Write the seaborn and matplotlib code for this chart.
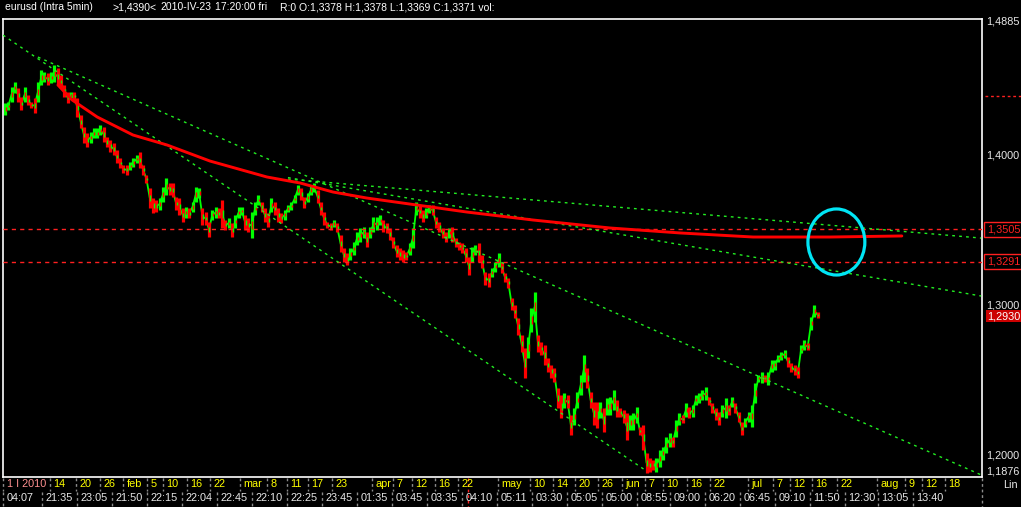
import numpy as np
import pandas as pd
import matplotlib
matplotlib.use("Agg")
import matplotlib.pyplot as plt
import matplotlib.transforms as mtransforms
from matplotlib.patches import Ellipse
import seaborn as sns

# ---------------- data ----------------
highs = [
    1.4346, 1.4352, 1.4452, 1.4485, 1.4445, 1.4385, 1.4452, 1.4399, 1.4352, 1.4379,
    1.4485, 1.4565, 1.4552, 1.4545, 1.4552, 1.4598, 1.4578, 1.4532, 1.4465, 1.4419,
    1.4419, 1.4419, 1.4379, 1.4266, 1.4186, 1.4146, 1.4153, 1.4179, 1.4179, 1.4199,
    1.4186, 1.4120, 1.4100, 1.4080, 1.4033, 1.3980, 1.3934, 1.3934, 1.3954, 1.3980,
    1.4000, 1.4020, 1.3934, 1.3867, 1.3781, 1.3714, 1.3701, 1.3714, 1.3787, 1.3847,
    1.3814, 1.3814, 1.3721, 1.3714, 1.3648, 1.3654, 1.3648, 1.3688, 1.3787, 1.3781,
    1.3648, 1.3621, 1.3555,
    1.3635, 1.3654, 1.3648, 1.3701, 1.3568, 1.3581, 1.3548,
    1.3601, 1.3654, 1.3654, 1.3601, 1.3581, 1.3621, 1.3688, 1.3734, 1.3688, 1.3648,
    1.3615, 1.3714, 1.3688, 1.3648, 1.3615, 1.3635, 1.3668, 1.3688, 1.3734, 1.3801,
    1.3781, 1.3721, 1.3748, 1.3801, 1.3814, 1.3767, 1.3688, 1.3621, 1.3555, 1.3548,
    1.3568, 1.3548, 1.3468, 1.3382, 1.3349, 1.3382, 1.3422, 1.3488, 1.3515, 1.3522,
    1.3488, 1.3522, 1.3588, 1.3588, 1.3601, 1.3568, 1.3548, 1.3515, 1.3455, 1.3402,
    1.3382, 1.3369, 1.3355, 1.3415,
    1.3515, 1.3688, 1.3668, 1.3635, 1.3648, 1.3668,
    1.3668, 1.3588, 1.3555, 1.3515, 1.3488, 1.3515, 1.3522, 1.3449, 1.3422, 1.3415,
    1.3382, 1.3322, 1.3389, 1.3402, 1.3415, 1.3335, 1.3223, 1.3216, 1.3249, 1.3289,
    1.3349, 1.3289, 1.3216, 1.3183, 1.3050, 1.3003, 1.2917, 1.2804, 1.2718, 1.2791,
    1.2983, 1.3090, 1.2804, 1.2757, 1.2738, 1.2651, 1.2605, 1.2585, 1.2452, 1.2405,
    1.2419, 1.2405, 1.2272, 1.2319, 1.2425, 1.2538, 1.2671, 1.2585, 1.2425, 1.2359,
    1.2359, 1.2359, 1.2319, 1.2385,
    1.2392, 1.2438, 1.2372, 1.2319, 1.2306, 1.2286,
    1.2272, 1.2286, 1.2326, 1.2193, 1.2206, 1.2020, 1.1987, 1.1973, 1.1987, 1.2040,
    1.2060, 1.2126, 1.2153, 1.2126, 1.2239, 1.2286, 1.2272, 1.2352, 1.2326, 1.2339,
    1.2405, 1.2419, 1.2438, 1.2458, 1.2392, 1.2352, 1.2319, 1.2292, 1.2339, 1.2385,
    1.2339, 1.2392, 1.2352, 1.2292, 1.2226, 1.2252, 1.2292, 1.2339, 1.2485, 1.2538,
    1.2558, 1.2538, 1.2558, 1.2638, 1.2638, 1.2671, 1.2691, 1.2704, 1.2658, 1.2618,
    1.2605, 1.2591, 1.2738, 1.2771, 1.2751, 1.2924, 1.3003, 1.2957,
]
lows = [
    1.4266, 1.4299, 1.4352, 1.4412, 1.4352, 1.4299, 1.4352, 1.4332, 1.4312, 1.4279,
    1.4352, 1.4465, 1.4485, 1.4465, 1.4478, 1.4485, 1.4465, 1.4445, 1.4385, 1.4346,
    1.4379, 1.4365, 1.4252, 1.4179, 1.4080, 1.4053, 1.4080, 1.4113, 1.4113, 1.4133,
    1.4086, 1.4053, 1.4020, 1.4000, 1.3947, 1.3914, 1.3880, 1.3867, 1.3900, 1.3920,
    1.3947, 1.3914, 1.3867, 1.3814, 1.3648, 1.3615, 1.3621, 1.3635, 1.3688, 1.3734,
    1.3734, 1.3721, 1.3635, 1.3601, 1.3555, 1.3581, 1.3581, 1.3621, 1.3688, 1.3714,
    1.3535, 1.3535, 1.3455,
    1.3568, 1.3581, 1.3581, 1.3515, 1.3502, 1.3515, 1.3455,
    1.3515, 1.3581, 1.3601, 1.3502, 1.3488, 1.3449, 1.3601, 1.3668, 1.3621, 1.3555,
    1.3522, 1.3621, 1.3601, 1.3555, 1.3548, 1.3568, 1.3621, 1.3635, 1.3681, 1.3734,
    1.3701, 1.3648, 1.3688, 1.3734, 1.3754, 1.3681, 1.3601, 1.3535, 1.3515, 1.3502,
    1.3522, 1.3488, 1.3355, 1.3289, 1.3269, 1.3302, 1.3335, 1.3402, 1.3422, 1.3449,
    1.3389, 1.3449, 1.3488, 1.3502, 1.3535, 1.3488, 1.3482, 1.3435, 1.3382, 1.3322,
    1.3302, 1.3289, 1.3302, 1.3335,
    1.3382, 1.3601, 1.3581, 1.3555, 1.3581, 1.3615,
    1.3601, 1.3515, 1.3488, 1.3449, 1.3422, 1.3449, 1.3422, 1.3389, 1.3369, 1.3349,
    1.3289, 1.3203, 1.3289, 1.3335, 1.3289, 1.3249, 1.3136, 1.3123, 1.3189, 1.3223,
    1.3256, 1.3216, 1.3156, 1.3116, 1.2970, 1.2917, 1.2804, 1.2691, 1.2518, 1.2651,
    1.2824, 1.2890, 1.2691, 1.2671, 1.2605, 1.2558, 1.2518, 1.2492, 1.2319, 1.2252,
    1.2319, 1.2319, 1.2139, 1.2206, 1.2319, 1.2405, 1.2492, 1.2452, 1.2319, 1.2206,
    1.2186, 1.2252, 1.2159, 1.2272,
    1.2272, 1.2306, 1.2259, 1.2259, 1.2219, 1.2106,
    1.2173, 1.2173, 1.2219, 1.2139, 1.2040, 1.1887, 1.1894, 1.1907, 1.1894, 1.1927,
    1.1973, 1.2020, 1.2060, 1.2060, 1.2126, 1.2206, 1.2219, 1.2259, 1.2252, 1.2259,
    1.2339, 1.2352, 1.2372, 1.2372, 1.2339, 1.2286, 1.2239, 1.2206, 1.2259, 1.2252,
    1.2272, 1.2326, 1.2286, 1.2226, 1.2139, 1.2193, 1.2226, 1.2193, 1.2352, 1.2492,
    1.2485, 1.2492, 1.2472, 1.2558, 1.2571, 1.2625, 1.2638, 1.2651, 1.2591, 1.2558,
    1.2538, 1.2518, 1.2684, 1.2704, 1.2704, 1.2837, 1.2924, 1.2917,
]

# red regression-like curve (bar index, price)
curve_x = [16.1, 20.4, 28.0, 38.9, 49.2, 62.3, 79.6, 89.7, 99.7, 110.0,
           123.1, 140.4, 160.5, 183.9, 205.2, 227.4, 250.8, 272.6]
curve_y = [1.4465, 1.4366, 1.4253, 1.4133, 1.4067, 1.3960, 1.3854, 1.3814, 1.3754, 1.3714,
           1.3674, 1.3621, 1.3568, 1.3515, 1.3482, 1.3455, 1.3455, 1.3462]

# green dashed trend lines: (x0, y0, x1, y1) in bar index / price
trend_lines = [
    (-0.6, 1.4797, 194.5, 1.1907),
    (10.0, 1.4651, 296.7, 1.1874),
    (86.0, 1.3850, 296.7, 1.3063),
    (86.0, 1.3840, 296.7, 1.3448),
]

level_lines = [1.3505, 1.3291]
marker_level = 1.4390
last_price = 1.2930
axis_prices = [1.4885, 1.4000, 1.3000, 1.2000, 1.1876]
axis_labels = ["1,4885", "1,4000", "1,3000", "1,2000", "1,1876"]

date_ticks = [-0.6, 13.7, 21.6, 28.9, 35.9, 43.2, 48.0, 55.3, 62.3, 71.4, 79.6, 85.7, 92.1,
              99.4, 111.6, 117.9, 123.7, 130.7, 137.7, 149.8, 159.6, 166.6, 173.3, 180.2,
              187.5, 194.5, 200.0, 207.3, 214.3, 225.8, 233.4, 238.6, 245.3, 252.9, 265.0,
              273.6, 278.7, 285.7]
date_labels = ["1 I 2010", "14", "20", "26", "feb", "5", "10", "16", "22", "mar", "8", "11", "17",
               "23", "apr", "7", "12", "16", "22", "may", "10", "14", "20", "26",
               "jun", "7", "10", "16", "22", "jul", "7", "12", "16", "22", "aug",
               "9", "12", "18"]
time_ticks = [-0.6, 11.2, 21.9, 32.5, 43.2, 53.8, 64.4, 75.1, 85.7, 96.4, 107.0, 117.6, 128.3,
              138.9, 149.5, 160.2, 170.8, 181.5, 192.1, 202.1, 212.8, 223.4, 234.0, 244.6,
              255.3, 265.3, 275.9]
time_labels = ["04:07", "21:35", "23:05", "21:50", "22:15", "22:04", "22:45", "22:10", "22:25",
               "23:45", "01:35", "03:45", "03:35", "04:10", "05:11", "03:30", "05:05", "05:00",
               "08:55", "09:00", "06:20", "06:45", "09:10", "11:50", "12:30", "13:05", "13:40"]
cursor_bar = 140.7
circle_center = (252.7, 1.3422)
circle_size = (17.3, 0.0439)

header_parts = ["eurusd (Intra 5min)", ">1,4390<", "2010-IV-23", "17:20:00 fri",
                "R:0 O:1,3378 H:1,3378 L:1,3369 C:1,3371 vol:"]
header_px = [5, 112, 160, 215, 280]

# ---------------- style ----------------
sns.set_style("dark", rc={"axes.facecolor": "black", "figure.facecolor": "black"})
plt.rcParams["font.family"] = ["Liberation Sans", "DejaVu Sans"]

W, H = 1021, 507
fig = plt.figure(figsize=(W / 100, H / 100), dpi=100, facecolor="black")
ax = fig.add_axes([3 / W, 30 / H, 979 / W, 458 / H])
ax.set_facecolor("black")
ax.set_xlim(-0.61, 296.96)
ax.set_ylim(1.1860, 1.4904)
ax.set_xticks([])
ax.set_yticks([])
ax.grid(False)
for sp in ax.spines.values():
    sp.set_visible(True)
    sp.set_color("white")
    sp.set_linewidth(1.2)

GREEN = "#00ff00"
RED = "#ff0000"
FS = 7.8

# price bars
df = pd.DataFrame({"bar": np.arange(len(highs)), "high": highs, "low": lows})
df["mid"] = (df["high"] + df["low"]) / 2
df["up"] = df["mid"].diff().fillna(0) >= 0
cols = np.where(df["up"], GREEN, RED)
# thin path joining consecutive bars so the mass looks continuous
ax.plot(df["bar"], df["mid"], color=GREEN, lw=1.3, zorder=1.5)
ax.vlines(df["bar"], df["low"], df["high"], colors=cols, linewidth=2.3, zorder=2)
# red bodies inside up bars and green inside down bars give the mixed texture
q1 = df["low"] + (df["high"] - df["low"]) * 0.35
q2 = df["low"] + (df["high"] - df["low"]) * 0.65
alt = np.where(df["up"], RED, GREEN)
ax.vlines(df["bar"] + 0.15, q1, q2, colors=alt, linewidth=1.0, zorder=2.1)

# horizontal level lines
for lv in level_lines:
    ax.axhline(lv, color="#ff2020", lw=1.0, ls=(0, (3, 3)), zorder=3)

# trend lines
for x0, y0, x1, y1 in trend_lines:
    ax.plot([x0, x1], [y0, y1], color="#22ee22", lw=1.0, ls=(0, (2, 3)), zorder=4)

# red curve
sns.lineplot(x=curve_x, y=curve_y, ax=ax, color=RED, linewidth=2.1, sort=False, zorder=5)

# cyan ellipse
ax.add_patch(Ellipse(circle_center, circle_size[0], circle_size[1], fill=False,
                     edgecolor="#00e5f5", lw=2.3, zorder=6))

# ---------------- right axis texts ----------------
ytrans = mtransforms.blended_transform_factory(ax.transAxes, ax.transData)
for p, lab in zip(axis_prices, axis_labels):
    dy = 2.5 if lab == "1,1876" else 0
    ax.annotate(lab, xy=(1.0, p), xycoords=ytrans, xytext=(3, dy), textcoords="offset points",
                ha="left", va="center", color="#e8e8e8", fontsize=FS, annotation_clip=False)
for lv in level_lines:
    ax.annotate(f"{lv:.4f}".replace(".", ","), xy=(1.0, lv), xycoords=ytrans,
                xytext=(3.5, 0), textcoords="offset points", ha="left", va="center",
                color="#ff2020", fontsize=FS, annotation_clip=False,
                bbox=dict(boxstyle="square,pad=0.22", fc="black", ec="#ff2020", lw=1.0))
ax.annotate(f"{last_price:.4f}".replace(".", ","), xy=(1.0, last_price), xycoords=ytrans,
            xytext=(3.5, 0), textcoords="offset points", ha="left", va="center",
            color="white", fontsize=FS, annotation_clip=False,
            bbox=dict(boxstyle="square,pad=0.08", fc="#cc0000", ec="none"))
ax.plot([1.003, 1.04], [marker_level, marker_level], transform=ytrans, clip_on=False,
        color="#ff2020", lw=1.0, ls=(0, (2, 2)))
fig.text(1018 / W, 1 - 485 / H, "Lin", ha="right", va="center", color="#e8e8e8", fontsize=FS)

# ---------------- bottom axis texts ----------------
xtrans = mtransforms.blended_transform_factory(ax.transData, ax.transAxes)
for k, lab in zip(date_ticks, date_labels):
    ax.plot([k, k], [-0.003, -0.031], transform=xtrans, clip_on=False,
            color="#8c8c8c", lw=1.0, ls=(0, (2, 2)))
    ax.annotate(lab, xy=(k, -0.0145), xycoords=xtrans, xytext=(2.5, 0),
                textcoords="offset points", ha="left", va="center", fontsize=FS,
                color="#ff9090" if lab == "1 I 2010" else "#ffff00", annotation_clip=False)
for k, lab in zip(time_ticks, time_labels):
    ax.plot([k, k], [-0.033, -0.066], transform=xtrans, clip_on=False,
            color="#8c8c8c", lw=1.0, ls=(0, (2, 2)))
    ax.annotate(lab, xy=(k, -0.045), xycoords=xtrans, xytext=(2.5, 0),
                textcoords="offset points", ha="left", va="center", fontsize=FS,
                color="#e8e8e8", annotation_clip=False)
ax.plot([296.96, 296.96], [-0.003, -0.066], transform=xtrans, clip_on=False,
        color="#8c8c8c", lw=1.0, ls=(0, (2, 2)))
ax.plot([cursor_bar, cursor_bar], [-0.003, -0.066], transform=xtrans, clip_on=False,
        color="#ff2020", lw=1.0, ls=(0, (2, 2)))

# ---------------- header ----------------
for txt, px in zip(header_parts, header_px):
    fig.text(px / W, 1 - 7 / H, txt, ha="left", va="center", color="white", fontsize=7.5)

fig.savefig("out.png", dpi=100, facecolor="black")
